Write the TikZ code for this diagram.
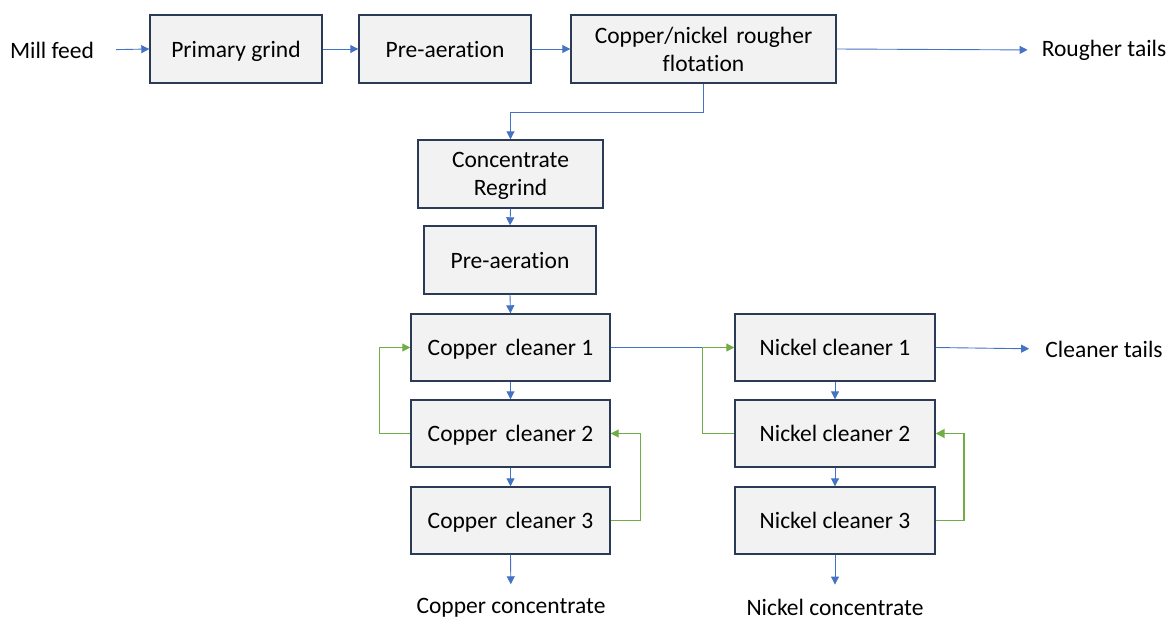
\documentclass[tikz,border=0pt]{standalone}
\usepackage{fontspec}
\setmainfont[Ligatures=NoCommon]{Carlito}
\usetikzlibrary{arrows.meta}
\definecolor{boxfill}{HTML}{F2F2F2}
\definecolor{boxline}{HTML}{2B3A55}
\definecolor{flowc}{HTML}{4472C4}
\definecolor{recyc}{HTML}{70AD47}
\begin{document}
\begin{tikzpicture}[x=1pt,y=-1pt,
  proc/.style={draw=boxline, line width=1.4pt, fill=boxfill, minimum height=68pt,
    inner sep=0pt, align=center, text depth=0pt, font=\fontsize{23.5}{28}\selectfont},
  lbl/.style={inner sep=0pt, font=\fontsize{23.5}{28}\selectfont},
  flow/.style={draw=flowc, line width=0.9pt, -{Triangle[length=8pt,width=8pt]}},
  flowline/.style={draw=flowc, line width=0.9pt},
  rec/.style={draw=recyc, line width=1pt, -{Triangle[length=8pt,width=8pt]}},
  recthick/.style={draw=recyc, line width=1.8pt, -{Triangle[length=9pt,width=9pt]}}
]
\useasboundingbox (0,0) rectangle (1176,619);

% top row
\node[lbl] (mill) at (52,50) {Mill feed};
\node[proc, minimum width=172pt] (pg) at (236,49) {Primary grind};
\node[proc, minimum width=172pt] (pa1) at (445,49) {Pre-aeration};
\node[proc, minimum width=265pt] (rough) at (703.5,49) {Copper/nickel\hspace{3pt} rougher\\flotation};
\node[lbl] (rt) at (1104,50) {Rougher tails};

% middle column
\node[proc, minimum width=185pt] (creg) at (510.5,174) {Concentrate\\Regrind};
\node[proc, minimum width=172pt] (pa2) at (510,260) {Pre-aeration};

% copper cleaners
\node[proc, minimum width=199pt, minimum height=67pt] (cc1) at (510.5,347.5) {Copper\hspace{3pt} cleaner 1};
\node[proc, minimum width=199pt, minimum height=67pt] (cc2) at (510.5,433.5) {Copper\hspace{3pt} cleaner 2};
\node[proc, minimum width=199pt, minimum height=67pt] (cc3) at (510.5,520.5) {Copper\hspace{3pt} cleaner 3};
\node[lbl] (cconc) at (511,608) {Copper concentrate};

% nickel cleaners
\node[proc, minimum width=200pt, minimum height=67pt] (nc1) at (835,347.5) {Nickel cleaner 1};
\node[proc, minimum width=200pt, minimum height=67pt] (nc2) at (835,433.5) {Nickel cleaner 2};
\node[proc, minimum width=200pt, minimum height=67pt] (nc3) at (835,520.5) {Nickel cleaner 3};
\node[lbl] (nconc) at (835,607) {Nickel concentrate};
\node[lbl] (ct) at (1104,349) {Cleaner tails};

% blue flows
\draw[flow, shorten <=22pt] (mill.east) -- (pg.west);
\draw[flow] (pg.east) -- (pa1.west);
\draw[flow] (pa1.east) -- (rough.west);
\draw[flow, shorten >=14pt] (rough.east) -- (rt.west);
\draw[flow] (rough.south) -- ++(0,29) -| (creg.north);
\draw[flow] (creg.south) -- (pa2.north);
\draw[flow] (pa2.south) -- (cc1.north);
\draw[flow] (cc1.south) -- (cc2.north);
\draw[flow] (cc2.south) -- (cc3.north);
\draw[flow, shorten >=14pt] (cc3.south) -- (cconc.north);
\draw[flowline] (cc1.east) -- (nc1.west);
\draw[flow] (nc1.south) -- (nc2.north);
\draw[flow] (nc2.south) -- (nc3.north);
\draw[flow, shorten >=14pt] (nc3.south) -- (nconc.north);
\draw[flow, shorten >=16pt] (nc1.east) -- (ct.west);

% green recycles
\draw[rec] (cc2.west) -- ++(-31,0) |- (cc1.west);
\draw[rec] (cc3.east) -- ++(30,0) |- (cc2.east);
\draw[rec] (nc2.west) -- ++(-32,0) |- (nc1.west);
\draw[recthick] (nc3.east) -- ++(28,0) |- (nc2.east);
\end{tikzpicture}
\end{document}
